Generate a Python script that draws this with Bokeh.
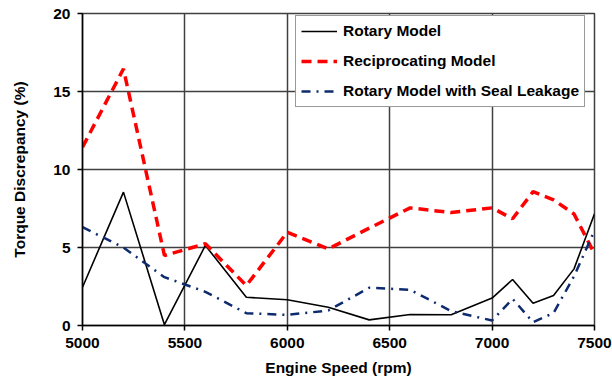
from bokeh.plotting import figure
from bokeh.models import FixedTicker, Range1d, Legend, LegendItem
from bokeh.embed import file_html
from bokeh.resources import INLINE

speed = [5000, 5200, 5400, 5600, 5800, 6000, 6200, 6400, 6600, 6800, 7000, 7100, 7200, 7300, 7400, 7500]
rotary = [2.45, 8.55, 0.05, 5.13, 1.81, 1.65, 1.17, 0.36, 0.70, 0.69, 1.76, 2.95, 1.43, 1.93, 3.63, 7.16]
reciprocating = [11.43, 16.45, 4.49, 5.24, 2.56, 5.98, 4.91, 6.24, 7.54, 7.24, 7.54, 6.84, 8.58, 8.05, 7.15, 4.60]
seal_leakage = [6.30, 5.00, 3.10, 2.16, 0.79, 0.68, 0.96, 2.42, 2.29, 0.92, 0.32, 1.71, 0.21, 0.80, 3.15, 6.09]

x_ticks = [5000, 5500, 6000, 6500, 7000, 7500]
y_ticks = [0, 5, 10, 15, 20]

FONT = "Liberation Sans"
FS = "15.5px"

p = figure(width=612, height=383, output_backend="svg", toolbar_location=None,
           x_range=Range1d(5000, 7500), y_range=Range1d(0, 20))
p.min_border_left = 82
p.min_border_right = 18
p.min_border_top = 13
p.min_border_bottom = 58
p.outline_line_color = "#404040"
p.outline_line_width = 1.5

for ax, ticks in ((p.xaxis[0], x_ticks), (p.yaxis[0], y_ticks)):
    ax.ticker = FixedTicker(ticks=ticks)
    ax.major_label_text_font = FONT
    ax.major_label_text_font_style = "bold"
    ax.major_label_text_font_size = FS
    ax.major_label_text_color = "black"
    ax.axis_label_text_font = FONT
    ax.axis_label_text_font_style = "bold"
    ax.axis_label_text_font_size = FS
    ax.axis_label_text_color = "black"
    ax.axis_line_color = "black"
    ax.axis_line_width = 1.5
    ax.major_tick_line_color = "black"
    ax.major_tick_line_width = 1.5
    ax.major_tick_out = 5
    ax.major_tick_in = 0
    ax.minor_tick_line_color = None

p.xaxis[0].axis_label = "Engine Speed (rpm)"
p.yaxis[0].axis_label = "Torque Discrepancy (%)"
p.xaxis[0].major_label_standoff = 7
p.xaxis[0].axis_label_standoff = 8
p.yaxis[0].major_label_standoff = 7
p.yaxis[0].axis_label_standoff = 22

for g in (p.xgrid[0], p.ygrid[0]):
    g.grid_line_color = "#404040"
    g.grid_line_width = 1.5

r1 = p.line(speed, rotary, line_color="black", line_width=1.6)
r2 = p.line(speed, reciprocating, line_color="#ff0000", line_width=3.5, line_dash="10 6")
r3 = p.line(speed, seal_leakage, line_color="#0d2b6e", line_width=2.5, line_dash="9 6 2 6")

legend = Legend(items=[
    LegendItem(label="Rotary Model", renderers=[r1]),
    LegendItem(label="Reciprocating Model", renderers=[r2]),
    LegendItem(label="Rotary Model with Seal Leakage", renderers=[r3]),
], location=(213, 218))
legend.label_text_font = FONT
legend.label_text_font_style = "bold"
legend.label_text_font_size = FS
legend.label_text_color = "black"
legend.glyph_width = 36
legend.glyph_height = 20
legend.label_height = 20
legend.label_standoff = 6
legend.spacing = 10
legend.padding = 5
legend.margin = 0
legend.border_line_color = "#333333"
legend.border_line_width = 1
legend.background_fill_color = "white"
legend.background_fill_alpha = 1
p.add_layout(legend, "center")

open("out.html", "w").write(file_html(p, INLINE))
